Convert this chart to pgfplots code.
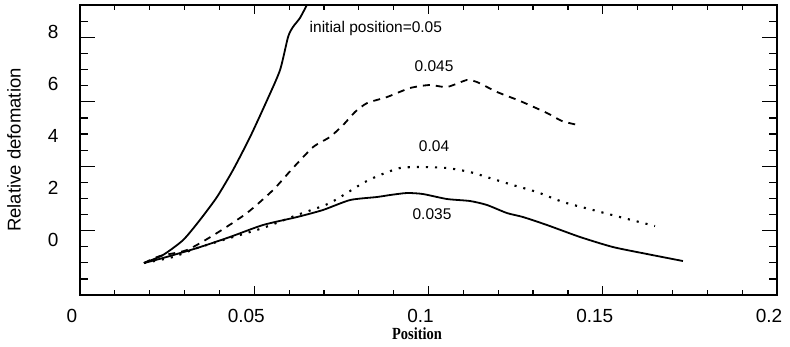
\documentclass[border=0pt]{standalone}
\usepackage{fontspec}
\setmainfont{Liberation Sans}
\newfontfamily\posfont{Liberation Serif}[FakeStretch=0.85]
\usepackage{pgfplots}
\pgfplotsset{compat=1.18}
\begin{document}
\begin{tikzpicture}
\begin{axis}[name=ax, scale only axis, width=697pt, height=290pt,
  xmin=0, xmax=0.2, ymin=-2.115, ymax=9.04,
  xtick={0,0.05,0.1,0.15,0.2}, xticklabels={0,0.05,0.1,0.15,0.2},
  minor xtick={0.01,0.02,0.03,0.04,0.06,0.07,0.08,0.09,0.11,0.12,0.13,0.14,0.16,0.17,0.18,0.19},
  ytick={0.362,2.838,5.315,7.792}, yticklabels={},
  minor ytick={-1.496,-0.877,-0.258,0.981,1.600,2.219,3.457,4.077,4.696,5.934,6.553,7.172,8.411},
  extra y ticks={0,2,4,6,8}, extra y tick labels={0,2,4,6,8},
  extra y tick style={major tick style={draw=none}},
  axis line style={line width=1.3pt},
  every tick/.style={black, line width=1.2pt},
  xtick style={/pgfplots/major tick length=9pt,/pgfplots/minor tick length=5pt},
  ytick style={/pgfplots/major tick length=15pt,/pgfplots/minor tick length=8pt},
  tick label style={font=\fontsize{19}{22}\selectfont},
  xticklabel style={xshift=-8pt,yshift=-11pt},
  yticklabel style={xshift=-18pt},
  xlabel={Position}, ylabel={Relative defomation},
  every axis x label/.style={at={(axis description cs:0.4835,-0.1345)},anchor=center,font=\posfont\bfseries\fontsize{17}{20}\selectfont},
  every axis y label/.style={at={(axis description cs:-0.0947,0.5)},rotate=90,anchor=center,font=\fontsize{18.5}{21}\selectfont},
  /pgf/number format/assume math mode=true,
]
% initial position 0.05
\addplot[black, line width=1.8pt, smooth, tension=0.4] coordinates {
(0.01836,-0.885) (0.0238,-0.577) (0.0296,0) (0.0344,0.769) (0.0393,1.654)
(0.0439,2.692) (0.0488,3.962) (0.0537,5.385) (0.0574,6.538) (0.0597,7.808)
(0.0611,8.192) (0.0631,8.538) (0.0651,9.04)};
% 0.045
\addplot[black, line width=1.8pt, smooth, tension=0.4, dash pattern=on 7pt off 6pt] coordinates {
(0.01836,-0.885) (0.02296,-0.615) (0.0307,-0.385) (0.0393,0.269) (0.0479,1.038)
(0.0554,1.923) (0.0611,2.769) (0.0669,3.577) (0.0717,3.962) (0.0755,4.423)
(0.0789,4.923) (0.0824,5.269) (0.0881,5.5) (0.0947,5.846) (0.1004,5.962)
(0.1053,5.885) (0.1110,6.154) (0.1139,6.077) (0.1197,5.692) (0.1263,5.346)
(0.1340,4.885) (0.1383,4.577) (0.1429,4.423)};
% 0.04
\addplot[black, line width=2.1pt, smooth, tension=0.4, dash pattern=on 2.1pt off 7pt] coordinates {
(0.01836,-0.885) (0.0267,-0.654) (0.0336,-0.308) (0.0430,0.077) (0.0525,0.462)
(0.0623,0.962) (0.0717,1.423) (0.0812,2.192) (0.0861,2.5) (0.0918,2.769)
(0.0976,2.808) (0.1053,2.769) (0.1119,2.615) (0.1176,2.385) (0.1242,2.115)
(0.1311,1.846) (0.1386,1.462) (0.1472,1.154) (0.1549,0.885) (0.1650,0.538)};
% 0.035
\addplot[black, line width=1.8pt, smooth, tension=0.4] coordinates {
(0.01836,-0.885) (0.0238,-0.692) (0.0336,-0.308) (0.0430,0.115) (0.0525,0.577)
(0.0623,0.885) (0.0697,1.154) (0.0775,1.538) (0.0852,1.654) (0.0890,1.731)
(0.0938,1.808) (0.0984,1.769) (0.1053,1.577) (0.1119,1.5) (0.1168,1.346)
(0.1225,1.038) (0.1271,0.885) (0.1340,0.577) (0.1435,0.115) (0.1529,-0.269)
(0.1627,-0.538) (0.1730,-0.808)};
\node[font=\fontsize{15.5}{18}\selectfont] at (axis cs:0.0849,8.154) {initial position=0.05};
\node[font=\fontsize{15.5}{18}\selectfont] at (axis cs:0.1016,6.69) {0.045};
\node[font=\fontsize{15.5}{18}\selectfont] at (axis cs:0.1016,3.615) {0.04};
\node[font=\fontsize{15.5}{18}\selectfont] at (axis cs:0.1010,1.0) {0.035};
\end{axis}
\pgfresetboundingbox
\path ([xshift=-80pt,yshift=-51pt]ax.south west) rectangle ([xshift=13pt,yshift=5pt]ax.north east);
\end{tikzpicture}
\end{document}
